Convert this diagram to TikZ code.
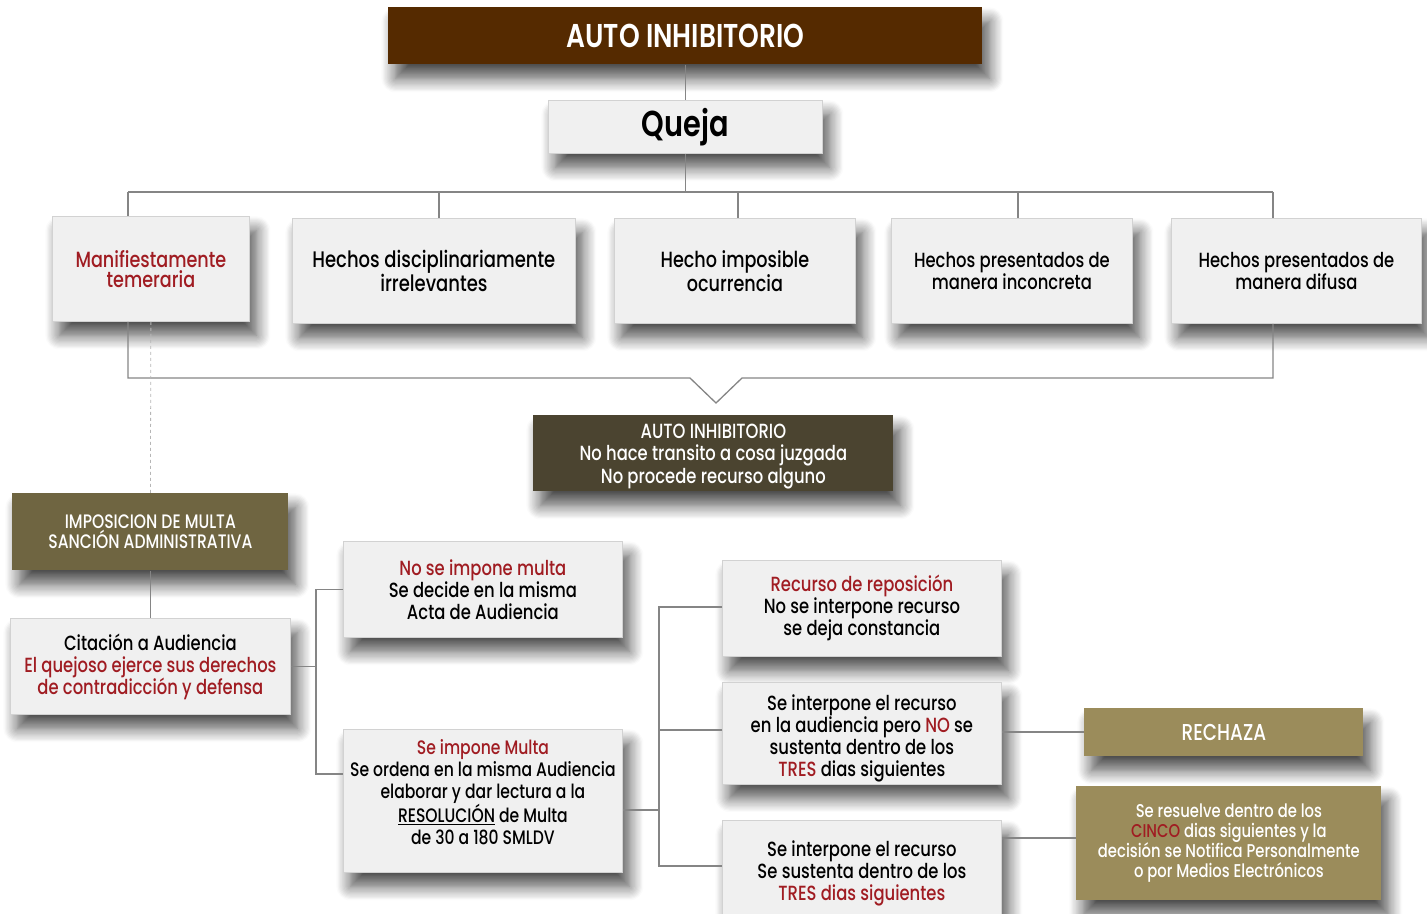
\documentclass[tikz,border=0pt]{standalone}
\usepackage{fontspec}
\setmainfont{Poppins}[UprightFont=* Medium, BoldFont=* SemiBold, FakeStretch=0.8]
\usetikzlibrary{shadows.blur}
\definecolor{cafe}{HTML}{552A00}
\definecolor{oliva}{HTML}{4B4430}
\definecolor{olivamed}{HTML}{6F6541}
\definecolor{olivaclaro}{HTML}{9B8C5B}
\definecolor{gris}{HTML}{F0F0F0}
\definecolor{borde}{HTML}{D2D2D2}
\definecolor{linea}{HTML}{858585}
\definecolor{rojo}{HTML}{A01C22}
\newcommand{\rojo}[1]{\textcolor{rojo}{#1}}

\begin{document}
\begin{tikzpicture}[x=1pt,y=-1pt,
  caja/.style={draw=borde, fill=gris, line width=.8pt, anchor=north west, align=center, inner sep=2pt,
    blur shadow={shadow xshift=7pt, shadow yshift=-14pt, shadow blur radius=14pt, shadow blur steps=12, shadow opacity=70},
    font=\fontsize{20.5}{22}\selectfont},
  oscura/.style={caja, draw=none, text=white},
  con/.style={draw=linea, line width=1.3pt}]
 \useasboundingbox (0,0) rectangle (1427,913);
 % cabecera
 \node[oscura, fill=cafe, minimum width=594, minimum height=57, font=\fontsize{33}{34}\bfseries] (auto) at (388,7) {AUTO INHIBITORIO};
 \node[caja, minimum width=274, minimum height=53, font=\fontsize{36}{38}\bfseries] (queja) at (548,100) {Queja};
 % causales
 \node[caja, minimum width=197, minimum height=105, text=rojo, font=\fontsize{22}{20}\selectfont] (mani) at (52,216) {Manifiestamente\\temeraria};
 \node[caja, minimum width=283, minimum height=105, font=\fontsize{22.5}{20}\selectfont] (irrel) at (292,218) {Hechos disciplinariamente\\irrelevantes};
 \node[caja, minimum width=241, minimum height=105, font=\fontsize{22}{20}\selectfont] (imposible) at (614,218) {Hecho imposible\\ocurrencia};
 \node[caja, minimum width=241, minimum height=105, font=\fontsize{20.5}{20}\selectfont] (inconcreta) at (891,218) {Hechos presentados de\\manera inconcreta};
 \node[caja, minimum width=250, minimum height=105, font=\fontsize{20.5}{20}\selectfont] (difusa) at (1171,218) {Hechos presentados de\\manera difusa};
 \node[oscura, fill=oliva, minimum width=360, minimum height=76, font=\fontsize{20.5}{22.5}\selectfont] (auto2) at (533,415) {\rule{0pt}{20pt}AUTO INHIBITORIO\\No hace transito a cosa juzgada\\No procede recurso alguno};
 % multa
 \node[oscura, fill=olivamed, minimum width=276, minimum height=77, font=\fontsize{19.5}{20}\selectfont] (multa) at (12,493) {IMPOSICION DE MULTA\\SANCIÓN ADMINISTRATIVA};
 \node[caja, minimum width=280, minimum height=96] (citacion) at (10,618) {Citación a Audiencia\\\rojo{El quejoso ejerce sus derechos}\\\rojo{de contradicción y defensa}};
 \node[caja, minimum width=279, minimum height=96] (noimpone) at (343,541) {\rojo{No se impone multa}\\Se decide en la misma\\Acta de Audiencia};
 \node[caja, minimum width=279, minimum height=143, font=\fontsize{19.5}{22}\selectfont] (impone) at (343,729) {\rojo{Se impone Multa}\\Se ordena en la misma Audiencia\\elaborar y dar lectura a la\\\underline{RESOLUCIÓN} de Multa\\de 30 a 180 SMLDV\\[-4pt]};
 % recursos
 \node[caja, minimum width=279, minimum height=96] (recurso) at (722,560) {\rojo{Recurso de reposición}\\No se interpone recurso\\se deja constancia};
 \node[caja, minimum width=279, minimum height=96] (nosust) at (722,682) {\rule{0pt}{26pt}Se interpone el recurso\\en la audiencia pero \rojo{NO} se\\sustenta dentro de los\\\rojo{TRES} dias siguientes};
 \node[caja, minimum width=279, minimum height=105] (sust) at (722,820) {Se interpone el recurso\\Se sustenta dentro de los\\\rojo{TRES dias siguientes}};
 \node[oscura, fill=olivaclaro, minimum width=279, minimum height=48, font=\fontsize{23}{24}\selectfont] (rechaza) at (1084,708) {RECHAZA};
 \node[oscura, fill=olivaclaro, minimum width=305, minimum height=114, font=\fontsize{18.5}{20}\selectfont] (resuelve) at (1076,786) {Se resuelve dentro de los\\\rojo{CINCO} dias siguientes y la\\decisión se Notifica Personalmente\\o por Medios Electrónicos};

 % conectores
 \coordinate (barL) at (128,192);
 \coordinate (barR) at (1273,192);
 \draw[con] (auto) -- (queja);
 \draw[con] (queja.south) -- (queja.south |- barL);
 \draw[con] (barL) -- (barR);
 \draw[con] (barL) -- (barL |- mani.north);
 \draw[con] (439,192) -- (439,218);
 \draw[con] (738,192) -- (738,218);
 \draw[con] (1018,192) -- (1018,218);
 \draw[con] (barR) -- (barR |- difusa.north);
 \draw[con] (barL |- mani.south) -- (128,378) -- (690,378) -- (716,403) -- (742,378) -- (1273,378) -- (barR |- difusa.south);
 \draw[draw=linea!60, dashed, line width=.8pt] (mani.south) -- (multa.north);
 \draw[con] (multa) -- (citacion);
 \draw[con] (citacion.east) -- ++(26,0);
 \draw[con] (noimpone.west) -- ++(-27,0) |- (impone.west |- 0,774);
 \draw[con] (impone.east |- 0,810) -- ++(37,0);
 \draw[con] (recurso.west |- 0,607) -- ++(-63,0) |- (sust.west |- 0,866);
 \draw[con] (nosust.west |- 0,730) -- ++(-63,0);
 \draw[con] (nosust.east |- 0,732) -- (rechaza.west |- 0,732);
 \draw[con] (sust.east |- 0,838) -- (resuelve.west |- 0,838);
\end{tikzpicture}
\end{document}
